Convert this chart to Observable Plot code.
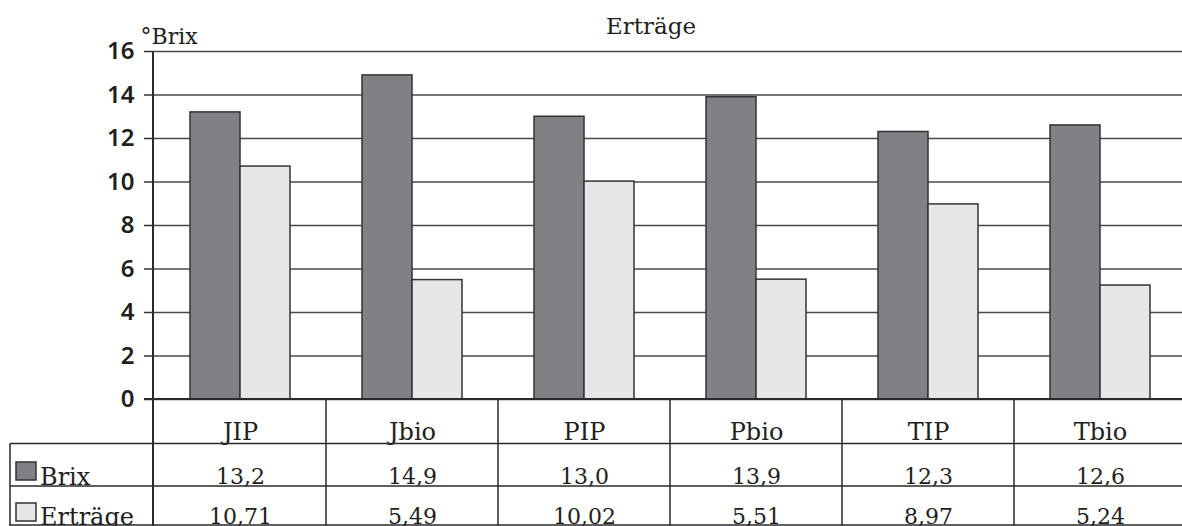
<!DOCTYPE html>
<html>
<head>
<meta charset="utf-8">
<script src="https://cdn.jsdelivr.net/npm/d3@7"></script>
<script src="https://cdn.jsdelivr.net/npm/@observablehq/plot@0.6"></script>
<style>
  html, body { margin: 0; padding: 0; background: #fff; }
  #chart svg { display: block; }
</style>
</head>
<body>
<div id="chart"></div>
<script>
// Sorten / Varianten
const categories = ["JIP", "Jbio", "PIP", "Pbio", "TIP", "Tbio"];
// Zuckergehalt in °Brix
const brix = [13.2, 14.9, 13.0, 13.9, 12.3, 12.6];
// Erträge
const ertraege = [10.71, 5.49, 10.02, 5.51, 8.97, 5.24];
const seriesNames = ["Brix", "Erträge"];
const seriesColors = ["#808184", "#e6e7e8"];
const yTicks = [0, 2, 4, 6, 8, 10, 12, 14, 16];

const rows = categories.flatMap((c, i) => [
  {category: c, series: "Brix", value: brix[i]},
  {category: c, series: "Erträge", value: ertraege[i]}
]);

const de = d3.formatLocale({decimal: ",", thousands: ".", grouping: [3], currency: ["", " €"]});
const fmt1 = de.format(".1f");
const fmt2 = de.format(".2f");

const ink = "#231f20";
const serif = "'DejaVu Serif', serif";

const plot = Plot.plot({
  width: 1182,
  height: 526,
  marginTop: 51,
  marginBottom: 127,
  marginLeft: 153,
  marginRight: 0,
  style: {fontFamily: serif, color: ink, background: "#fff"},
  x: {type: "band", domain: categories, range: [153, 1187], padding: 0, axis: null},
  y: {domain: [0, 16], axis: null},
  color: {domain: seriesNames, range: seriesColors},
  marks: [
    Plot.gridY(yTicks, {stroke: "#4a4a4a", strokeOpacity: 1, strokeWidth: 1.5}),
    Plot.axisY(yTicks, {
      tickSize: 9, tickPadding: 10, stroke: "#333", strokeWidth: 1.5,
      fontSize: 24, fontFamily: "'Noto Sans', sans-serif", fontWeight: 600, fill: ink, label: null
    }),
    Plot.barY(rows.filter(d => d.series === "Brix"), {
      x: "category", y: "value", fill: "series",
      stroke: "#333", strokeWidth: 1.5, insetLeft: 36, insetRight: 86
    }),
    Plot.barY(rows.filter(d => d.series === "Erträge"), {
      x: "category", y: "value", fill: "series",
      stroke: "#333", strokeWidth: 1.5, insetLeft: 86, insetRight: 36
    }),
    // Datentabelle unter dem Diagramm
    Plot.text(categories, {
      x: d => d, text: d => d, frameAnchor: "bottom", lineAnchor: "bottom",
      dy: 40, fontSize: 24, fill: ink
    }),
    Plot.text(rows.filter(d => d.series === "Brix"), {
      x: "category", text: d => fmt1(d.value), frameAnchor: "bottom", lineAnchor: "bottom",
      dy: 84, fontSize: 22, fill: ink
    }),
    Plot.text(rows.filter(d => d.series === "Erträge"), {
      x: "category", text: d => fmt2(d.value), frameAnchor: "bottom", lineAnchor: "bottom",
      dy: 124, fontSize: 22, fill: ink
    }),
    // Titel und Achsenbeschriftung
    Plot.text(["Erträge"], {
      frameAnchor: "top", lineAnchor: "bottom", dx: -17, dy: -18, fontSize: 23, fill: ink
    }),
    Plot.text(["°Brix"], {
      frameAnchor: "top-left", textAnchor: "start", lineAnchor: "bottom",
      dx: -13, dy: -8, fontSize: 22, fill: ink
    })
  ]
});

document.getElementById("chart").appendChild(plot);

// Tabellenlinien und Legendenfelder, ausgerichtet an den Skalen des Diagramms
const x = plot.scale("x");
const y = plot.scale("y");
const color = plot.scale("color");
const svg = d3.select(plot);
const g = svg.append("g").attr("stroke", "#2a2a2a").attr("fill", "none");
const left = x.range[0];
const right = 1182;
const y0 = y.apply(0);
const rowLines = [443.5, 486, 525];
const bottom = 526;

// Grundlinie und senkrechte Achse
g.append("line").attr("x1", left - 9).attr("x2", right).attr("y1", y0).attr("y2", y0).attr("stroke-width", 2);
g.append("line").attr("x1", left).attr("x2", left).attr("y1", y.apply(16)).attr("y2", bottom).attr("stroke-width", 2);

// Spaltentrenner
categories.slice(1).forEach(c => {
  const cx = x.apply(c);
  g.append("line").attr("x1", cx).attr("x2", cx).attr("y1", y0).attr("y2", bottom).attr("stroke-width", 1.5);
});

// Zeilentrenner
rowLines.forEach(ry => {
  g.append("line").attr("x1", 10).attr("x2", right).attr("y1", ry).attr("y2", ry).attr("stroke-width", 1.5);
});
g.append("line").attr("x1", 10).attr("x2", 10).attr("y1", rowLines[0]).attr("y2", bottom).attr("stroke-width", 1.5);

// Legendenfelder mit Bezeichnung
const legendRows = [
  {name: "Brix", top: 462, baseline: 485},
  {name: "Erträge", top: 503, baseline: 525}
];
legendRows.forEach(r => {
  svg.append("rect")
    .attr("x", 16).attr("y", r.top).attr("width", 20).attr("height", 18)
    .attr("fill", color.apply(r.name)).attr("stroke", "#333").attr("stroke-width", 1.5);
  svg.append("text")
    .attr("x", 40).attr("y", r.baseline)
    .attr("text-anchor", "start")
    .attr("font-family", serif).attr("font-size", 24).attr("fill", ink)
    .text(r.name);
});
</script>
</body>
</html>
